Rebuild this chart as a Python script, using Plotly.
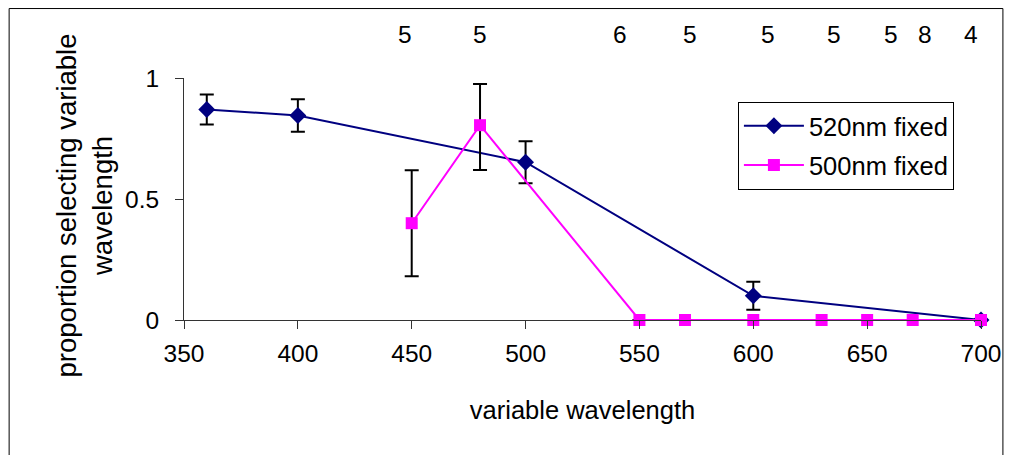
import plotly.graph_objects as go

# 520nm fixed series
x_520 = [360, 400, 500, 600, 700]
y_520 = [0.87, 0.845, 0.652, 0.10, 0.0]
err_520 = [0.062, 0.067, 0.087, 0.058, None]

# 500nm fixed series
x_500 = [450, 480, 550, 570, 600, 630, 650, 670, 700]
y_500 = [0.40, 0.805, 0.0, 0.0, 0.0, 0.0, 0.0, 0.0, 0.0]
err_500_plus = [0.219, 0.17, None, None, None, None, None, None, None]
err_500_minus = [0.219, 0.185, None, None, None, None, None, None, None]

# sample-size labels above the plot
n_labels = ["5", "5", "6", "5", "5", "5", "5", "8", "4"]
n_label_x = [447, 480, 541.5, 572, 606.5, 635.5, 660.5, 675.5, 695.5]

x_ticks = [350, 400, 450, 500, 550, 600, 650, 700]
y_ticks = [0, 0.5, 1]
y_tick_text = ["0", "0.5", "1"]

FONT = "Liberation Sans, Arial, sans-serif"
FS_TICK = 24.5
FS_TXT = 25.5
FS_YT = 27.5

fig = go.Figure()
fig.add_trace(go.Scatter(
    x=x_520, y=y_520, mode="lines+markers", name="520nm fixed",
    line=dict(color="#000080", width=2),
    marker=dict(symbol="diamond", size=13, color="#000080"),
    error_y=dict(type="data", array=err_520, color="black", thickness=2, width=7),
    cliponaxis=False, legendgroup="a",
))
fig.add_trace(go.Scatter(
    x=x_500, y=y_500, mode="lines+markers", name="500nm fixed",
    line=dict(color="#FF00FF", width=2),
    marker=dict(symbol="square", size=12, color="#FF00FF"),
    error_y=dict(type="data", symmetric=False, array=err_500_plus, arrayminus=err_500_minus,
                 color="black", thickness=2, width=7),
    cliponaxis=False, legendgroup="b",
))

for t, xv in zip(n_labels, n_label_x):
    fig.add_annotation(x=xv, y=1.178, xref="x", yref="paper", text=t, showarrow=False,
                       xanchor="center", yanchor="middle",
                       font=dict(family=FONT, size=FS_TICK, color="black"))

# y-axis title (two lines)
fig.add_annotation(x=-0.125, y=0.475, xref="paper", yref="paper",
                   text="proportion selecting variable<br>wavelength", showarrow=False,
                   textangle=-90, xanchor="center", yanchor="middle", align="center",
                   font=dict(family=FONT, size=FS_YT, color="black"))

# outer chart border
fig.add_shape(type="rect", xref="paper", yref="paper", x0=-0.2194, x1=1.0275, y0=-0.6, y1=1.287,
              line=dict(color="black", width=1), layer="below")

fig.update_layout(
    width=1005, height=447,
    margin=dict(l=176, r=29, t=70, b=135, pad=0),
    paper_bgcolor="white", plot_bgcolor="white",
    font=dict(family=FONT, size=FS_TXT, color="black"),
    showlegend=True,
    legend=dict(x=0.695, y=0.902, xanchor="left", yanchor="top",
                bordercolor="black", borderwidth=1, bgcolor="white",
                font=dict(family=FONT, size=FS_TXT, color="black"),
                itemwidth=60, tracegroupgap=3, traceorder="grouped"),
    xaxis=dict(range=[350, 700], tickvals=x_ticks, showgrid=False, zeroline=False,
               showline=True, linecolor="#333333", linewidth=1, ticks="outside", ticklen=8,
               tickcolor="#333333", ticklabelstandoff=4,
               tickfont=dict(family=FONT, size=FS_TICK, color="black"),
               title=dict(text="variable wavelength", standoff=34,
                          font=dict(family=FONT, size=FS_TXT, color="black"))),
    yaxis=dict(range=[0, 1], tickvals=y_ticks, ticktext=y_tick_text, showgrid=False, zeroline=False,
               showline=True, linecolor="#333333", linewidth=1, ticks="outside", ticklen=8,
               tickcolor="#333333", ticklabelstandoff=11,
               tickfont=dict(family=FONT, size=FS_TICK, color="black")),
)

fig.write_html("out.html")
